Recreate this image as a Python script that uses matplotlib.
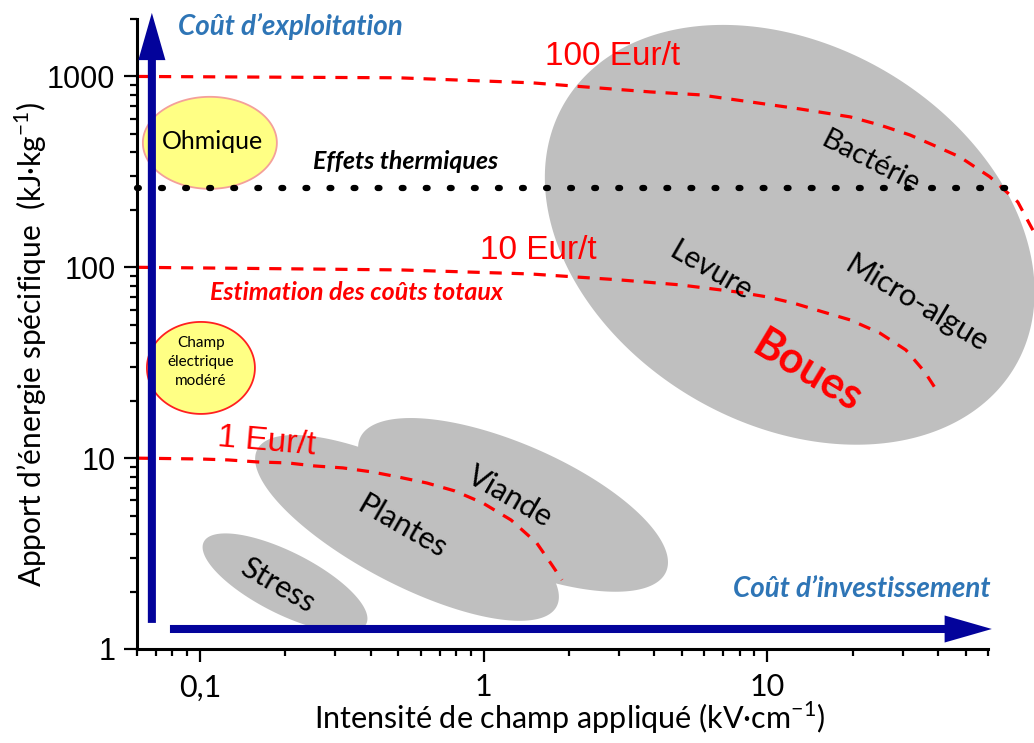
import numpy as np
import matplotlib
matplotlib.use("Agg")
import matplotlib.pyplot as plt
from matplotlib.ticker import FixedLocator, FixedFormatter, NullFormatter

# ---------------- data ----------------
x_ticks = [0.1, 1, 10]
x_tick_labels = ['0,1', '1', '10']
x_minor = [0.06, 0.07, 0.08, 0.09, 0.2, 0.3, 0.4, 0.5, 0.6, 0.7, 0.8, 0.9,
           2, 3, 4, 5, 6, 7, 8, 9, 20, 30, 40, 50, 60]
y_ticks = [1, 10, 100, 1000]
y_tick_labels = ['1', '10', '100', '1000']
y_minor = [2, 3, 4, 5, 6, 7, 8, 9, 20, 30, 40, 50, 60, 70, 80, 90,
           200, 300, 400, 500, 600, 700, 800, 900, 2000]

# iso-cost curves (Eur/t)
cost_labels = ['100 Eur/t', '10 Eur/t', '1 Eur/t']
cost100_x = [0.06, 0.5, 1.48, 3.86, 5.79, 8.69, 13.0, 19.6, 24.9, 31.8, 39.0, 47.7, 60.9, 76.4, 87.1]
cost100_y = [1000, 984, 926, 830, 801, 736, 676, 614, 557, 494, 433, 379, 298, 220, 153]
cost10_x = [0.06, 0.507, 1.46, 3.02, 4.92, 7.81, 9.97, 12.3, 15.7, 19.6, 24.9, 30.8, 35.9, 39.9]
cost10_y = [100, 96.9, 92.3, 85.9, 80.9, 74.3, 70.0, 65.1, 58.4, 53.0, 45.3, 36.9, 28.3, 22.2]
cost1_x = [0.06, 0.1, 0.1255, 0.160, 0.204, 0.254, 0.319, 0.404, 0.499, 0.631, 0.792,
           0.994, 1.25, 1.54, 1.74, 1.89]
cost1_y = [10, 9.9, 9.79, 9.55, 9.44, 9.10, 8.89, 8.47, 7.97, 7.41, 6.73,
           5.82, 4.74, 3.59, 2.76, 2.30]

# thermal effects threshold
thermal_x = [0.06, 73]
thermal_y = [261, 261]

# application regions (grey)
regions = ['Boues', 'Viande', 'Plantes', 'Stress']
region_cx = [12.0, 1.27, 0.537, 0.1995]
region_cy = [148, 5.69, 4.31, 2.22]
region_label_x = [13.9, 1.238, 0.515, 0.188]
region_label_y = [28.3, 6.26, 4.36, 2.165]

# sub-labels inside the Boues region
micro_labels = ['Bactérie', 'Levure', 'Micro-algue']
micro_x = [23.2, 6.32, 33.7]
micro_y = [357, 95.7, 64.3]

# heating modes (yellow)
modes = ['Ohmique', 'Champ\nélectrique\nmodéré']
mode_x = [0.1084, 0.1008]
mode_y = [449, 29.7]

# ---------------- figure ----------------
plt.rcParams['font.family'] = ['Lato', 'DejaVu Sans']
plt.rcParams['mathtext.fontset'] = 'custom'
plt.rcParams['mathtext.rm'] = 'Lato'

W, H = 1034, 743
fig = plt.figure(figsize=(W / 100, H / 100), dpi=100)
ax = fig.add_axes([137 / W, 1 - 649 / H, (988 - 137) / W, (649 - 19) / H])
ax.set_xscale('log')
ax.set_yscale('log')
XL, YL = (0.06, 60), (1, 2000)
ax.set_xlim(*XL)
ax.set_ylim(*YL)

GREY = '#bfbfbf'
NAVY = '#03039b'
BLUE = '#2e75b6'
RED = '#ff0000'

# pixels per decade on each axis (for drawing round shapes on log axes)
PXX = ax.bbox.width / np.log10(XL[1] / XL[0])
PXY = ax.bbox.height / np.log10(YL[1] / YL[0])


def blob(x, y, w_px, h_px, angle, **kw):
    t = np.linspace(0, 2 * np.pi, 300)
    th = np.deg2rad(angle)
    a, b = w_px / 2, h_px / 2
    ex = a * np.cos(t) * np.cos(th) - b * np.sin(t) * np.sin(th)
    ey = a * np.cos(t) * np.sin(th) + b * np.sin(t) * np.cos(th)
    xs = 10 ** (np.log10(x) + ex / PXX)
    ys = 10 ** (np.log10(y) + ey / PXY)
    ax.fill(xs, ys, **kw)


# grey regions
reg_geom = [(522, 379, -30.2), (334, 121, -23.6), (338, 112, -27.7), (182, 62, -26.8)]
for cx, cy, (w, h, a) in zip(region_cx, region_cy, reg_geom):
    blob(cx, cy, w, h, a, facecolor=GREY, edgecolor='none', zorder=1, clip_on=False)

# yellow modes
mode_geom = [(134, 92, '#f4a09a'), (108, 92, '#ff2020')]
for mx, my, (w, h, ec) in zip(mode_x, mode_y, mode_geom):
    blob(mx, my, w, h, 0, facecolor='#ffff84', edgecolor=ec, lw=1.3, zorder=1.5)

# iso-cost lines
dash = dict(color=RED, lw=2.3, dashes=(3.8, 3.1), clip_on=False, zorder=2)
ax.plot(cost100_x, cost100_y, **dash)
ax.plot(cost10_x, cost10_y, **dash)
ax.plot(cost1_x, cost1_y, **dash)

# thermal line
ax.plot(thermal_x, thermal_y, color='black', lw=4.5, dashes=(0.3, 3.55),
        dash_capstyle='round', clip_on=False, zorder=2)

# texts
arial = ['Liberation Sans', 'DejaVu Sans']
ax.text(1.644, 1268, cost_labels[0], color=RED, fontsize=24, family=arial,
        ha='left', va='center', zorder=3)
ax.text(0.970, 122, cost_labels[1], color=RED, fontsize=24, family=arial,
        ha='left', va='center', zorder=3)
ax.text(0.172, 12.2, cost_labels[2], color=RED, fontsize=24, family=arial,
        ha='center', va='center', rotation=-5, rotation_mode='anchor', zorder=3)

ax.text(0.250, 357, 'Effets thermiques', color='black', fontsize=18,
        fontweight='bold', style='italic', ha='left', va='center', zorder=3)
ax.text(0.1085, 73.4, 'Estimation des coûts totaux', color=RED, fontsize=18,
        fontweight='bold', style='italic', ha='left', va='center', zorder=3)
ax.text(0.0836, 1820, 'Coût d’exploitation', color=BLUE, fontsize=20,
        fontweight='bold', style='italic', ha='left', va='center', zorder=5, clip_on=False)
ax.text(7.56, 2.06, 'Coût d’investissement', color=BLUE, fontsize=20,
        fontweight='bold', style='italic', ha='left', va='center', zorder=5)

ax.text(mode_x[0] * 1.02, mode_y[0] * 1.02, modes[0], fontsize=18, ha='center', va='center', zorder=3)
ax.text(mode_x[1], mode_y[1] * 1.07, modes[1], fontsize=11, ha='center', va='center',
        linespacing=1.45, zorder=3)

region_rot = [-31, -30, -30, -30]
region_fs = [31, 22, 22, 22]
for i, name in enumerate(regions):
    col = RED if name == 'Boues' else 'black'
    wt = 'bold' if name == 'Boues' else 'normal'
    ax.text(region_label_x[i], region_label_y[i], name, color=col, fontsize=region_fs[i],
            fontweight=wt, ha='center', va='center', rotation=region_rot[i],
            rotation_mode='anchor', zorder=3)
for name, x, y, r, fs in zip(micro_labels, micro_x, micro_y, [-27, -30, -31], [21, 21.5, 22]):
    ax.text(x, y, name, color='black', fontsize=fs, ha='center', va='center',
            rotation=r, rotation_mode='anchor', zorder=3)

# cost arrows
arrow_style = 'simple,head_length=3.4,head_width=1.95,tail_width=0.58'
ax.annotate('', xy=(0.0677, 2153), xytext=(0.0677, 1.37),
            arrowprops=dict(arrowstyle=arrow_style, mutation_scale=10, color=NAVY,
                            shrinkA=0, shrinkB=0, lw=0),
            annotation_clip=False, zorder=4)
ax.annotate('', xy=(61.9, 1.273), xytext=(0.0784, 1.273),
            arrowprops=dict(arrowstyle=arrow_style, mutation_scale=10, color=NAVY,
                            shrinkA=0, shrinkB=0, lw=0),
            annotation_clip=False, zorder=4)

# axes styling
for s in ['top', 'right']:
    ax.spines[s].set_visible(False)
for s in ['left', 'bottom']:
    ax.spines[s].set_linewidth(2.2)
ax.xaxis.set_major_locator(FixedLocator(x_ticks))
ax.xaxis.set_major_formatter(FixedFormatter(x_tick_labels))
ax.xaxis.set_minor_locator(FixedLocator(x_minor))
ax.xaxis.set_minor_formatter(NullFormatter())
ax.yaxis.set_major_locator(FixedLocator(y_ticks))
ax.yaxis.set_major_formatter(FixedFormatter(y_tick_labels))
ax.yaxis.set_minor_locator(FixedLocator(y_minor))
ax.yaxis.set_minor_formatter(NullFormatter())
ax.tick_params(which='major', direction='out', length=9.5, width=1.6)
ax.tick_params(which='minor', direction='out', length=5, width=1.6)
ax.tick_params(axis='x', labelsize=22, pad=8)
ax.tick_params(axis='y', labelsize=22, pad=6)
for lab in ax.get_yticklabels():
    lab.set_family(arial)

fig.text(31 / W, 1 - 344 / H, 'Apport d’énergie spécifique  (kJ·kg$^{\\mathregular{-1}}$)',
         rotation=90, ha='center', va='center', fontsize=21.5)
fig.text(570 / W, 1 - 718 / H, 'Intensité de champ appliqué (kV·cm$^{\\mathregular{-1}}$)',
         ha='center', va='center', fontsize=22)

fig.savefig('out.png', dpi=100)
